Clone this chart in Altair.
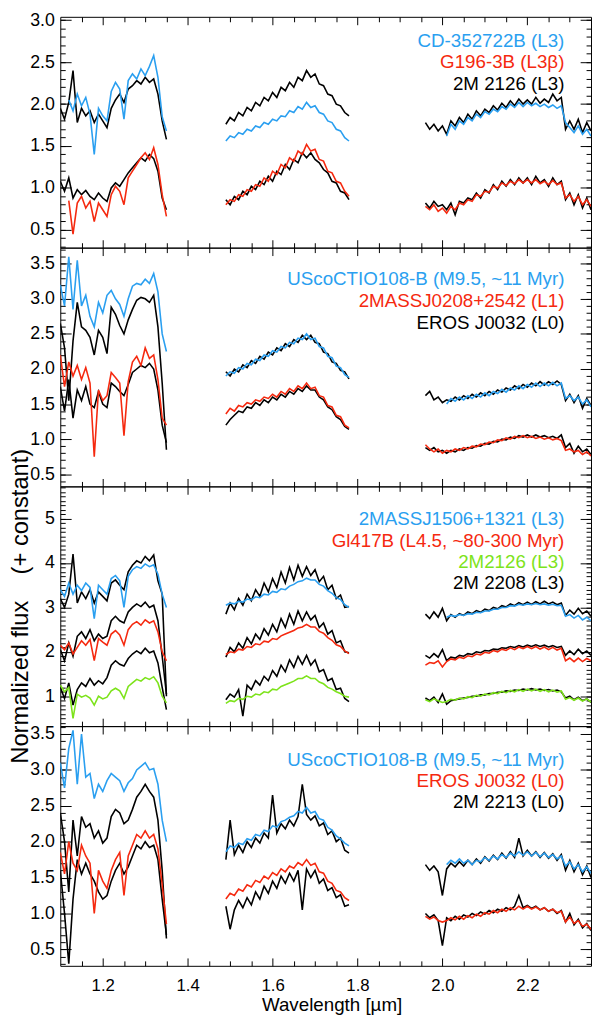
import altair as alt
import pandas as pd

FONT = "Liberation Sans"
BLUE = "#2a9ff0"
RED = "#f5290f"
GREEN = "#7de31b"
BLACK = "#000000"

# wavelength grids (micron)
WL_J = [1.10, 1.11, 1.12, 1.13, 1.14, 1.15, 1.16, 1.17, 1.18, 1.19, 1.20, 1.21, 1.22,
        1.23, 1.24, 1.25, 1.26, 1.27, 1.28, 1.29, 1.30, 1.31, 1.32, 1.33, 1.34, 1.35]
WL_H = [1.49, 1.50, 1.51, 1.52, 1.53, 1.54, 1.55, 1.56, 1.57, 1.58, 1.59, 1.60, 1.61, 1.62, 1.63,
        1.64, 1.65, 1.66, 1.67, 1.68, 1.69, 1.70, 1.71, 1.72, 1.73, 1.74, 1.75, 1.76, 1.77, 1.78]
WL_K = [1.96, 1.97, 1.98, 1.99, 2.00, 2.01, 2.02, 2.03, 2.04, 2.05, 2.06, 2.07, 2.08, 2.09,
        2.10, 2.11, 2.12, 2.13, 2.14, 2.15, 2.16, 2.17, 2.18, 2.19, 2.20, 2.21, 2.22, 2.23,
        2.24, 2.25, 2.26, 2.27, 2.28, 2.29, 2.30, 2.31, 2.32, 2.33, 2.34, 2.35]

X_MAJOR = [1.2, 1.4, 1.6, 1.8, 2.0, 2.2]
X_MINOR = [1.15, 1.25, 1.30, 1.35, 1.45, 1.50, 1.55, 1.65, 1.70, 1.75, 1.85, 1.90, 1.95,
           2.05, 2.10, 2.15, 2.25, 2.30]

N5 = [None] * 5

# ---------------- panel 1 ----------------
P1_BLUE_J = [None, None, 2.05, 1.92, 2.12, 1.98, 2.08, 1.88, 1.40, 1.95, 1.86, 1.80, 2.15, 2.26,
             2.18, 1.82, 2.28, 2.36, 2.30, 2.42, 2.34, 2.45, 2.58, 2.32, 1.85, 1.68]
P1_BLUE_H = [1.56, 1.62, 1.60, 1.66, 1.64, 1.70, 1.68, 1.74, 1.72, 1.78, 1.76, 1.82, 1.80, 1.86, 1.85,
             1.92, 1.90, 1.97, 1.94, 2.02, 1.96, 1.98, 1.90, 1.88, 1.80, 1.78, 1.70, 1.68, 1.60, 1.56]
P1_BLUE_K = N5 + [1.62, 1.76, 1.70, 1.80, 1.76, 1.84, 1.80, 1.88, 1.84, 1.91, 1.88, 1.94, 1.91, 1.97,
                  1.94, 2.00, 1.96, 2.02, 1.97, 2.02, 1.98, 2.01, 1.97, 2.00, 1.96, 1.99, 1.95, 1.98,
                  1.78, 1.72, 1.66, 1.74, 1.64, 1.70, 1.62]
P1_RED_J = [None, None, 0.85, 0.45, 0.82, 0.90, 0.76, 0.84, 0.60, 0.82, 0.74, 0.66, 0.92, 1.02,
            0.96, 0.80, 1.12, 1.20, 1.28, 1.36, 1.42, 1.34, 1.48, 1.28, 0.92, 0.66]
P1_RED_H = [0.80, 0.86, 0.84, 0.92, 0.90, 0.98, 0.96, 1.04, 1.02, 1.12, 1.08, 1.20, 1.16, 1.28, 1.24,
            1.36, 1.32, 1.44, 1.40, 1.52, 1.44, 1.46, 1.34, 1.32, 1.20, 1.18, 1.08, 1.06, 0.96, 0.90]
P1_RED_K = [0.78, 0.74, 0.80, 0.72, 0.76, 0.70, 0.78, 0.74, 0.82, 0.80, 0.86, 0.84, 0.92, 0.90,
            0.96, 0.95, 1.02, 1.00, 1.06, 1.03, 1.08, 1.05, 1.10, 1.06, 1.10, 1.06, 1.10, 1.05,
            1.08, 1.04, 1.09, 1.04, 1.06, 0.88, 0.92, 0.84, 0.90, 0.80, 0.86, 0.78]
P1_BKU_J = [1.95, 1.82, 2.02, 2.40, 1.78, 1.95, 1.86, 1.92, 1.78, 1.88, 1.80, 1.72, 1.95, 2.05,
            2.12, 2.02, 2.18, 2.22, 2.28, 2.24, 2.32, 2.26, 2.30, 2.12, 1.80, 1.58]
P1_BKU_H = [1.76, 1.84, 1.80, 1.90, 1.86, 1.96, 1.92, 2.02, 1.98, 2.08, 2.04, 2.14, 2.08, 2.20, 2.16,
            2.26, 2.20, 2.32, 2.28, 2.40, 2.32, 2.36, 2.24, 2.22, 2.12, 2.10, 2.00, 1.98, 1.90, 1.86]
P1_BKU_K = [1.78, 1.70, 1.76, 1.68, 1.74, 1.64, 1.80, 1.74, 1.84, 1.78, 1.88, 1.82, 1.92, 1.86,
            1.94, 1.90, 1.98, 1.93, 2.01, 1.96, 2.04, 1.98, 2.06, 2.00, 2.05, 2.00, 2.08, 2.01,
            2.06, 2.02, 2.12, 2.04, 2.08, 1.70, 1.80, 1.70, 1.82, 1.66, 1.78, 1.68]
P1_BKL_J = [1.08, 0.96, 1.12, 0.88, 0.98, 0.92, 0.97, 0.90, 0.86, 0.94, 0.88, 0.84, 1.00, 1.06,
            1.02, 1.10, 1.18, 1.24, 1.30, 1.36, 1.32, 1.40, 1.35, 1.20, 0.88, 0.74]
P1_BKL_H = [0.86, 0.80, 0.90, 0.86, 0.96, 0.92, 1.02, 0.98, 1.08, 1.04, 1.14, 1.08, 1.20, 1.16, 1.28,
            1.22, 1.34, 1.30, 1.42, 1.36, 1.42, 1.34, 1.30, 1.22, 1.18, 1.08, 1.06, 0.96, 0.94, 0.86]
P1_BKL_K = [0.82, 0.76, 0.84, 0.78, 0.80, 0.74, 0.82, 0.68, 0.84, 0.82, 0.88, 0.86, 0.94, 0.88,
            0.98, 0.94, 1.04, 0.98, 1.08, 1.02, 1.10, 1.04, 1.12, 1.06, 1.12, 1.04, 1.14, 1.06,
            1.10, 1.02, 1.12, 1.04, 1.08, 0.86, 0.94, 0.80, 0.92, 0.76, 0.88, 0.74]

# ---------------- panel 2 ----------------
P2_BLUE_J = [3.20, 2.90, 3.60, 2.85, 3.55, 2.90, 3.05, 2.75, 2.60, 2.95, 2.80, 3.05, 3.12, 3.00,
             2.92, 2.75, 3.00, 3.18, 3.22, 3.20, 3.28, 3.22, 3.36, 3.10, 2.50, 2.25]
P2_BLUE_H = [1.90, 1.96, 1.94, 2.02, 2.00, 2.08, 2.06, 2.14, 2.12, 2.20, 2.18, 2.26, 2.24, 2.32, 2.30,
             2.38, 2.36, 2.44, 2.42, 2.50, 2.42, 2.44, 2.32, 2.30, 2.18, 2.16, 2.04, 2.02, 1.92, 1.88]
P2_BLUE_K = N5 + [1.50, 1.58, 1.54, 1.60, 1.56, 1.62, 1.58, 1.64, 1.60, 1.66, 1.62, 1.68, 1.65, 1.71,
                  1.67, 1.73, 1.70, 1.76, 1.72, 1.78, 1.74, 1.80, 1.75, 1.80, 1.76, 1.81, 1.76, 1.80,
                  1.58, 1.62, 1.55, 1.60, 1.50, 1.56, 1.46]
P2_RED_J = [2.20, 1.75, 2.10, 1.90, 2.05, 1.85, 2.02, 1.80, 0.75, 1.70, 1.55, 1.62, 1.95, 1.88,
            1.80, 1.05, 1.82, 2.10, 2.18, 2.05, 2.30, 2.15, 2.20, 1.85, 1.30, 1.20]
P2_RED_H = [1.36, 1.44, 1.40, 1.48, 1.46, 1.52, 1.50, 1.56, 1.54, 1.60, 1.58, 1.64, 1.60, 1.68, 1.64,
            1.72, 1.68, 1.76, 1.72, 1.80, 1.72, 1.74, 1.62, 1.60, 1.48, 1.46, 1.34, 1.32, 1.20, 1.16]
P2_RED_K = [0.92, 0.86, 0.82, 0.86, 0.80, 0.84, 0.82, 0.86, 0.84, 0.88, 0.86, 0.90, 0.89, 0.93,
            0.92, 0.96, 0.95, 0.99, 0.98, 1.02, 1.00, 1.04, 1.02, 1.05, 1.02, 1.04, 1.01, 1.03,
            1.00, 1.02, 0.99, 1.01, 0.98, 0.84, 0.86, 0.82, 0.84, 0.78, 0.82, 0.76]
P2_BKU_J = [2.65, 2.30, 1.55, 2.40, 2.95, 2.60, 2.55, 2.45, 2.20, 2.55, 2.45, 2.22, 2.88, 2.78,
            2.62, 2.50, 2.70, 2.85, 2.98, 3.02, 3.00, 2.95, 3.05, 2.60, 1.80, 0.85]
P2_BKU_H = [1.96, 1.90, 2.00, 1.96, 2.06, 2.02, 2.12, 2.08, 2.18, 2.14, 2.24, 2.20, 2.30, 2.26, 2.36,
            2.32, 2.42, 2.38, 2.48, 2.42, 2.48, 2.38, 2.36, 2.24, 2.22, 2.10, 2.08, 1.98, 1.96, 1.86]
P2_BKU_K = [1.62, 1.68, 1.56, 1.60, 1.52, 1.56, 1.54, 1.60, 1.56, 1.62, 1.58, 1.64, 1.60, 1.66,
            1.62, 1.68, 1.64, 1.70, 1.67, 1.73, 1.70, 1.76, 1.72, 1.78, 1.74, 1.80, 1.76, 1.82,
            1.77, 1.82, 1.78, 1.83, 1.78, 1.55, 1.64, 1.52, 1.62, 1.44, 1.58, 1.48]
P2_BKL_J = [1.75, 1.40, 1.85, 1.30, 1.70, 1.55, 1.75, 1.50, 1.45, 1.68, 1.50, 1.45, 1.80, 1.75,
            1.68, 1.62, 1.78, 1.95, 2.00, 2.05, 2.02, 2.08, 2.00, 1.70, 1.20, 0.95]
P2_BKL_H = [1.20, 1.28, 1.34, 1.40, 1.38, 1.46, 1.44, 1.52, 1.48, 1.56, 1.52, 1.60, 1.56, 1.64, 1.60,
            1.68, 1.64, 1.72, 1.68, 1.76, 1.70, 1.70, 1.60, 1.56, 1.46, 1.42, 1.32, 1.28, 1.18, 1.14]
P2_BKL_K = [0.88, 0.84, 0.88, 0.82, 0.84, 0.80, 0.84, 0.82, 0.86, 0.84, 0.88, 0.87, 0.91, 0.90,
            0.94, 0.93, 0.97, 0.96, 1.00, 0.99, 1.03, 1.01, 1.05, 1.03, 1.06, 1.03, 1.06, 1.03,
            1.05, 1.02, 1.04, 1.01, 1.06, 0.88, 0.94, 0.80, 0.90, 0.82, 0.86, 0.78]

# ---------------- panel 3 ----------------
P3_BLUE_J = [3.40, 3.25, 3.55, 3.30, 3.50, 3.38, 3.55, 3.45, 2.75, 3.50, 3.40, 3.30, 3.65, 3.72,
             3.60, 3.00, 3.70, 3.85, 3.92, 3.88, 3.98, 3.92, 3.96, 3.75, 3.30, 3.00]
P3_BLUE_H = [3.05, 3.10, 3.08, 3.14, 3.12, 3.19, 3.17, 3.24, 3.22, 3.30, 3.28, 3.36, 3.34, 3.42, 3.40,
             3.48, 3.52, 3.58, 3.60, 3.66, 3.62, 3.62, 3.52, 3.48, 3.38, 3.32, 3.22, 3.18, 3.06, 3.00]
P3_BLUE_K = N5 + [2.78, 2.82, 2.80, 2.84, 2.82, 2.86, 2.85, 2.89, 2.88, 2.92, 2.92, 2.96, 2.96, 3.00,
                  3.00, 3.04, 3.03, 3.07, 3.05, 3.08, 3.06, 3.09, 3.06, 3.08, 3.05, 3.07, 3.04, 3.05,
                  2.80, 2.84, 2.76, 2.82, 2.72, 2.78, 2.70]
P3_RED_J = [2.15, 2.05, 2.20, 1.95, 2.10, 2.25, 2.15, 2.28, 1.80, 2.30, 2.22, 2.15, 2.40, 2.48,
            2.38, 2.15, 2.50, 2.62, 2.68, 2.60, 2.72, 2.65, 2.70, 2.45, 2.00, 1.80]
P3_RED_H = [1.94, 2.00, 1.98, 2.06, 2.04, 2.12, 2.10, 2.18, 2.16, 2.24, 2.22, 2.30, 2.28, 2.36, 2.40,
            2.44, 2.48, 2.54, 2.56, 2.62, 2.56, 2.56, 2.46, 2.42, 2.32, 2.26, 2.16, 2.12, 2.02, 1.96]
P3_RED_K = [1.70, 1.76, 1.74, 1.80, 1.66, 1.78, 1.84, 1.82, 1.88, 1.85, 1.91, 1.89, 1.95, 1.93,
            1.99, 1.97, 2.03, 2.00, 2.06, 2.03, 2.09, 2.05, 2.11, 2.07, 2.12, 2.07, 2.12, 2.06,
            2.11, 2.05, 2.10, 2.04, 2.08, 1.80, 1.86, 1.78, 1.86, 1.78, 1.85, 1.80]
P3_GREEN_J = [1.25, 1.10, 1.20, 0.50, 1.05, 0.98, 1.02, 0.96, 0.80, 1.00, 0.94, 0.98, 1.12, 1.18,
              1.12, 0.95, 1.22, 1.30, 1.38, 1.34, 1.42, 1.38, 1.44, 1.30, 1.00, 0.85]
P3_GREEN_H = [0.84, 0.90, 0.88, 0.95, 0.93, 1.00, 0.98, 1.05, 1.03, 1.10, 1.08, 1.16, 1.14, 1.22, 1.26,
              1.30, 1.34, 1.40, 1.40, 1.46, 1.40, 1.40, 1.32, 1.28, 1.20, 1.16, 1.10, 1.06, 1.00, 0.98]
P3_GREEN_K = [0.92, 0.88, 0.94, 0.90, 0.86, 0.88, 0.93, 0.91, 0.96, 0.94, 0.99, 0.97, 1.02, 1.00,
              1.05, 1.03, 1.08, 1.06, 1.11, 1.08, 1.13, 1.10, 1.15, 1.11, 1.16, 1.12, 1.16, 1.11,
              1.15, 1.10, 1.14, 1.09, 1.12, 0.93, 0.97, 0.91, 0.96, 0.89, 0.94, 0.87]
P3_BKT_J = [3.20, 3.00, 3.30, 4.20, 3.10, 3.35, 3.20, 3.40, 3.10, 3.35, 3.25, 3.15, 3.55, 3.62,
            3.50, 3.40, 3.80, 3.95, 4.05, 4.00, 4.15, 4.05, 4.18, 3.60, 3.30, 1.00]
P3_BKT_H = [2.85, 3.10, 2.95, 3.20, 3.05, 3.30, 3.15, 3.40, 3.25, 3.55, 3.35, 3.65, 3.45, 3.80, 3.55,
            3.90, 3.62, 3.95, 3.70, 3.92, 3.72, 3.85, 3.58, 3.70, 3.40, 3.50, 3.20, 3.28, 3.00, 3.02]
P3_BKT_K = [2.85, 2.75, 2.90, 2.78, 2.98, 2.70, 2.84, 2.78, 2.86, 2.82, 2.90, 2.86, 2.93, 2.89,
            2.96, 2.93, 3.00, 2.97, 3.04, 3.01, 3.08, 3.04, 3.11, 3.06, 3.12, 3.07, 3.13, 3.08,
            3.14, 3.08, 3.12, 3.06, 3.10, 2.82, 2.94, 2.85, 2.98, 2.86, 2.92, 2.80]
P3_BKM_J = [2.05, 1.80, 2.20, 1.90, 2.35, 2.45, 2.30, 2.50, 2.25, 2.40, 2.30, 2.35, 2.70, 2.80,
            2.70, 2.65, 2.90, 3.00, 3.08, 3.02, 3.12, 3.00, 3.05, 2.70, 1.90, 1.05]
P3_BKM_H = [1.88, 2.10, 2.00, 2.20, 2.08, 2.32, 2.18, 2.40, 2.28, 2.52, 2.38, 2.62, 2.45, 2.75, 2.55,
            2.85, 2.62, 2.92, 2.70, 2.90, 2.72, 2.82, 2.55, 2.65, 2.40, 2.48, 2.20, 2.25, 2.00, 1.98]
P3_BKM_K = [1.92, 1.86, 1.96, 1.88, 2.05, 1.80, 1.88, 1.86, 1.92, 1.90, 1.96, 1.94, 2.00, 1.98,
            2.03, 2.02, 2.06, 2.05, 2.09, 2.08, 2.12, 2.10, 2.14, 2.11, 2.15, 2.12, 2.16, 2.12,
            2.15, 2.11, 2.14, 2.10, 2.12, 1.92, 2.02, 1.94, 2.06, 1.96, 2.02, 1.92]
P3_BKL_J = [1.20, 0.95, 1.30, 0.80, 1.15, 1.30, 1.22, 1.40, 1.25, 1.35, 1.28, 1.42, 1.70, 1.80,
            1.72, 1.68, 1.85, 1.95, 2.02, 1.96, 2.08, 1.98, 2.02, 1.75, 1.20, 0.70]
P3_BKL_H = [0.92, 1.05, 0.98, 1.15, 0.55, 1.25, 1.15, 1.35, 1.25, 1.45, 1.35, 1.58, 1.45, 1.70, 1.55,
            1.82, 1.65, 1.90, 1.72, 1.92, 1.70, 1.82, 1.55, 1.60, 1.35, 1.40, 1.15, 1.18, 0.95, 0.88]
P3_BKL_K = [0.96, 0.90, 0.98, 0.86, 1.05, 0.82, 0.90, 0.92, 0.94, 0.96, 0.97, 1.00, 1.00, 1.03,
            1.03, 1.06, 1.06, 1.09, 1.09, 1.12, 1.11, 1.14, 1.13, 1.16, 1.14, 1.17, 1.14, 1.16,
            1.13, 1.15, 1.12, 1.14, 1.10, 0.96, 1.00, 0.92, 0.98, 0.90, 0.94, 0.86]

# ---------------- panel 4 ----------------
P4_BLUE_J = [3.10, 2.75, 3.30, 3.55, 2.80, 3.50, 2.90, 2.95, 2.60, 2.80, 2.70, 2.85, 2.95, 2.90,
             2.85, 2.70, 2.82, 2.88, 3.00, 3.05, 3.10, 3.00, 3.02, 2.80, 2.30, 2.00]
P4_BLUE_H = [1.86, 1.94, 1.92, 1.98, 1.96, 2.04, 2.02, 2.10, 2.08, 2.16, 2.14, 2.22, 2.20, 2.28, 2.30,
             2.34, 2.36, 2.42, 2.40, 2.48, 2.40, 2.42, 2.32, 2.30, 2.20, 2.16, 2.08, 2.04, 1.98, 1.94]
P4_BLUE_K = N5 + [1.68, 1.74, 1.70, 1.76, 1.70, 1.74, 1.68, 1.74, 1.72, 1.78, 1.74, 1.80, 1.76, 1.82,
                  1.78, 1.84, 1.80, 1.86, 1.81, 1.86, 1.80, 1.85, 1.79, 1.84, 1.78, 1.82, 1.76, 1.80,
                  1.66, 1.72, 1.62, 1.68, 1.58, 1.65, 1.56]
P4_RED_J = [1.85, 1.55, 2.00, 1.70, 1.60, 1.95, 1.80, 1.70, 1.00, 1.60, 1.45, 1.35, 1.60, 1.75,
            1.85, 1.25, 1.80, 1.95, 2.10, 2.05, 2.15, 2.05, 2.10, 1.90, 1.40, 0.85]
P4_RED_H = [1.20, 1.28, 1.25, 1.34, 1.31, 1.40, 1.37, 1.46, 1.43, 1.52, 1.48, 1.57, 1.53, 1.62, 1.58,
            1.66, 1.63, 1.71, 1.67, 1.75, 1.67, 1.70, 1.58, 1.56, 1.45, 1.42, 1.32, 1.30, 1.22, 1.18]
P4_RED_K = [0.96, 0.92, 0.95, 0.90, 0.88, 0.90, 0.94, 0.91, 0.96, 0.92, 0.97, 0.94, 0.99, 0.96,
            1.01, 0.99, 1.04, 1.01, 1.06, 1.03, 1.08, 1.05, 1.10, 1.06, 1.10, 1.06, 1.09, 1.05,
            1.08, 1.03, 1.06, 1.01, 1.03, 0.88, 0.95, 0.86, 0.90, 0.82, 0.85, 0.78]
P4_BKU_J = [2.40, 2.00, 1.30, 2.30, 1.80, 2.35, 2.20, 2.25, 2.05, 2.15, 1.98, 2.05, 2.35, 2.45,
            2.40, 2.25, 2.30, 2.45, 2.62, 2.70, 2.80, 2.70, 2.62, 2.30, 1.60, 0.65]
P4_BKU_H = [1.75, 2.30, 1.82, 1.95, 1.85, 2.00, 1.92, 2.05, 1.98, 2.12, 2.05, 2.65, 2.12, 2.25, 2.18,
            2.30, 2.22, 2.35, 2.80, 2.38, 2.30, 2.36, 2.22, 2.26, 2.10, 2.15, 2.00, 2.05, 1.88, 1.84]
P4_BKU_K = [1.68, 1.60, 1.66, 1.58, 1.25, 1.62, 1.70, 1.65, 1.72, 1.66, 1.74, 1.68, 1.76, 1.70,
            1.79, 1.73, 1.81, 1.75, 1.84, 1.77, 1.86, 1.78, 2.05, 1.80, 1.88, 1.80, 1.86, 1.78,
            1.85, 1.77, 1.83, 1.74, 1.82, 1.60, 1.74, 1.58, 1.70, 1.54, 1.66, 1.50]
P4_BKL_J = [1.60, 1.00, 0.30, 1.20, 1.75, 1.55, 1.70, 1.55, 1.45, 1.30, 1.20, 1.25, 1.45, 1.60,
            1.70, 1.55, 1.65, 1.80, 1.95, 1.90, 2.00, 1.92, 1.95, 1.75, 1.20, 0.70]
P4_BKL_H = [1.10, 0.78, 1.05, 1.18, 1.08, 1.22, 1.12, 1.30, 1.20, 1.38, 1.28, 1.45, 1.35, 1.52, 1.42,
            1.56, 1.45, 1.60, 1.05, 1.62, 1.50, 1.60, 1.42, 1.48, 1.32, 1.36, 1.22, 1.26, 1.10, 1.12]
P4_BKL_K = [1.00, 0.94, 0.98, 0.90, 0.55, 0.94, 0.90, 0.96, 0.92, 0.98, 0.95, 1.00, 0.97, 1.02,
            0.99, 1.04, 1.01, 1.06, 1.03, 1.08, 1.05, 1.10, 1.25, 1.08, 1.11, 1.07, 1.10, 1.05,
            1.08, 1.03, 1.06, 1.00, 1.04, 0.88, 1.00, 0.84, 0.92, 0.80, 0.86, 0.76]

# legend texts
P1_LABELS = ["CD-352722B (L3)", "G196-3B (L3\u03b2)", "2M 2126 (L3)"]
P2_LABELS = ["UScoCTIO108-B (M9.5, ~11 Myr)", "2MASSJ0208+2542 (L1)", "EROS J0032 (L0)"]
P3_LABELS = ["2MASSJ1506+1321 (L3)", "Gl417B (L4.5, ~80-300 Myr)", "2M2126 (L3)", "2M 2208 (L3)"]
P4_LABELS = ["UScoCTIO108-B (M9.5, ~11 Myr)", "EROS J0032 (L0)", "2M 2213 (L0)"]

Y_TITLE = "Normalized flux\u00a0\u00a0\u00a0\u00a0(+ constant)"
X_TITLE = "Wavelength [\u00b5m]"

W = 538
LINE_W = 1.6


def minor_vals(lo, hi):
    out = []
    i = 0
    while True:
        v = round(lo + 0.1 * i, 2)
        if v > hi + 1e-9:
            break
        out.append(v)
        i += 1
    return out


def rows(sid, color, j, h, k):
    out = []
    for band, wls, vals in (("J", WL_J, j), ("H", WL_H, h), ("K", WL_K, k)):
        if len(vals) != len(wls):
            raise ValueError(f"{sid} {band}: {len(vals)} values vs {len(wls)} wavelengths")
        for w, v in zip(wls, vals):
            if v is not None:
                out.append({"wl": w, "flux": v, "seg": f"{sid}-{band}", "color": color})
    return out


def panel(series, height, ydom, ymajor, yminor, yfmt, legend, legend_y,
          bottom=False, ytitle=False):
    xs = alt.Scale(domain=[1.1, 2.35], nice=False, zero=False)
    ys = alt.Scale(domain=ydom, nice=False, zero=False)
    black_rows, color_rows = [], []
    for sid, color, j, h, k in series:
        (black_rows if color == BLACK else color_rows).extend(rows(sid, color, j, h, k))

    if bottom:
        xaxis = alt.Axis(values=X_MAJOR, format=".1f", tickSize=0, domain=False, grid=False,
                         labelFontSize=17, labelPadding=12, title=X_TITLE, titleFontSize=19,
                         titleFontWeight="normal", titlePadding=2, titleX=275, titleAlign="center")
    else:
        xaxis = None
    yaxis = alt.Axis(values=ymajor, format=yfmt, tickSize=0, domain=False, grid=False,
                     labelFontSize=18, labelPadding=6, title=None)

    def lines(data, xa, ya):
        return alt.Chart(pd.DataFrame(data)).mark_line(strokeWidth=LINE_W, clip=True).encode(
            x=alt.X("wl:Q", scale=xs, axis=xa),
            y=alt.Y("flux:Q", scale=ys, axis=ya),
            detail="seg:N",
            color=alt.Color("color:N", scale=None),
            order="wl:Q",
        )

    layers = [lines(black_rows, xaxis, yaxis), lines(color_rows, None, None)]

    anchor = pd.DataFrame({"wl": [1.5], "flux": [ydom[0]]})

    def ticks(xorient, yorient, xvals, yvals, xlen, ylen):
        return alt.Chart(anchor).mark_point(opacity=0).encode(
            x=alt.X("wl:Q", scale=xs, axis=alt.Axis(
                orient=xorient, offset=-height, values=xvals, labels=False, domain=False,
                grid=False, tickSize=xlen, tickColor="black", tickWidth=1, title=None)),
            y=alt.Y("flux:Q", scale=ys, axis=alt.Axis(
                orient=yorient, offset=-W, values=yvals, labels=False, domain=False,
                grid=False, tickSize=ylen, tickColor="black", tickWidth=1, title=None)),
        )

    layers += [
        ticks("top", "right", X_MAJOR, ymajor, 8, 11),
        ticks("bottom", "left", X_MAJOR, ymajor, 8, 11),
        ticks("top", "right", X_MINOR, yminor, 5, 5),
        ticks("bottom", "left", X_MINOR, yminor, 5, 5),
    ]

    for (txt, col), yy in zip(legend, legend_y):
        layers.append(
            alt.Chart(pd.DataFrame({"t": [txt]})).mark_text(
                align="right", baseline="middle", fontSize=19, font=FONT, color=col
            ).encode(text="t:N", x=alt.value(511), y=alt.value(yy))
        )

    if ytitle:
        layers.append(
            alt.Chart(pd.DataFrame({"t": [Y_TITLE]})).mark_text(
                angle=270, align="center", baseline="alphabetic", fontSize=24, font=FONT,
                color="black"
            ).encode(text="t:N", x=alt.value(-33), y=alt.value(height / 2))
        )

    return alt.layer(*layers).resolve_axis(x="independent", y="independent").properties(
        width=W, height=height)


p1 = panel(
    [("p1bku", BLACK, P1_BKU_J, P1_BKU_H, P1_BKU_K),
     ("p1bkl", BLACK, P1_BKL_J, P1_BKL_H, P1_BKL_K),
     ("p1blue", BLUE, P1_BLUE_J, P1_BLUE_H, P1_BLUE_K),
     ("p1red", RED, P1_RED_J, P1_RED_H, P1_RED_K)],
    234, [0.288, 3.041], [0.5, 1.0, 1.5, 2.0, 2.5, 3.0], minor_vals(0.3, 3.0), ".1f",
    list(zip(P1_LABELS, [BLUE, RED, BLACK])), [25, 46, 68])

p2 = panel(
    [("p2bku", BLACK, P2_BKU_J, P2_BKU_H, P2_BKU_K),
     ("p2bkl", BLACK, P2_BKL_J, P2_BKL_H, P2_BKL_K),
     ("p2blue", BLUE, P2_BLUE_J, P2_BLUE_H, P2_BLUE_K),
     ("p2red", RED, P2_RED_J, P2_RED_H, P2_RED_K)],
    242, [0.327, 3.729], [0.5, 1.0, 1.5, 2.0, 2.5, 3.0, 3.5], minor_vals(0.4, 3.7), ".1f",
    list(zip(P2_LABELS, [BLUE, RED, BLACK])), [32, 54, 76])

p3 = panel(
    [("p3bkt", BLACK, P3_BKT_J, P3_BKT_H, P3_BKT_K),
     ("p3bkm", BLACK, P3_BKM_J, P3_BKM_H, P3_BKM_K),
     ("p3bkl", BLACK, P3_BKL_J, P3_BKL_H, P3_BKL_K),
     ("p3blue", BLUE, P3_BLUE_J, P3_BLUE_H, P3_BLUE_K),
     ("p3red", RED, P3_RED_J, P3_RED_H, P3_RED_K),
     ("p3green", GREEN, P3_GREEN_J, P3_GREEN_H, P3_GREEN_K)],
    243, [0.327, 5.727], [1, 2, 3, 4, 5], minor_vals(0.4, 5.7), "d",
    list(zip(P3_LABELS, [BLUE, RED, GREEN, BLACK])), [33.5, 55, 76.5, 98], ytitle=True)

p4 = panel(
    [("p4bku", BLACK, P4_BKU_J, P4_BKU_H, P4_BKU_K),
     ("p4bkl", BLACK, P4_BKL_J, P4_BKL_H, P4_BKL_K),
     ("p4blue", BLUE, P4_BLUE_J, P4_BLUE_H, P4_BLUE_K),
     ("p4red", RED, P4_RED_J, P4_RED_H, P4_RED_K)],
    243, [0.27, 3.61], [0.5, 1.0, 1.5, 2.0, 2.5, 3.0, 3.5], minor_vals(0.3, 3.6), ".1f",
    list(zip(P4_LABELS, [BLUE, RED, BLACK])), [34, 56, 77], bottom=True)

chart = alt.vconcat(p1, p2, p3, p4, spacing=0, bounds="flush").properties(
    padding={"left": 0, "top": -5, "right": 0, "bottom": 0}
).configure_view(
    stroke="black", strokeWidth=1
).configure_axis(
    labelFont=FONT, titleFont=FONT, labelColor="black", titleColor="black", tickColor="black"
)

chart.save("out.html", embed_options={"renderer": "svg", "actions": False})
